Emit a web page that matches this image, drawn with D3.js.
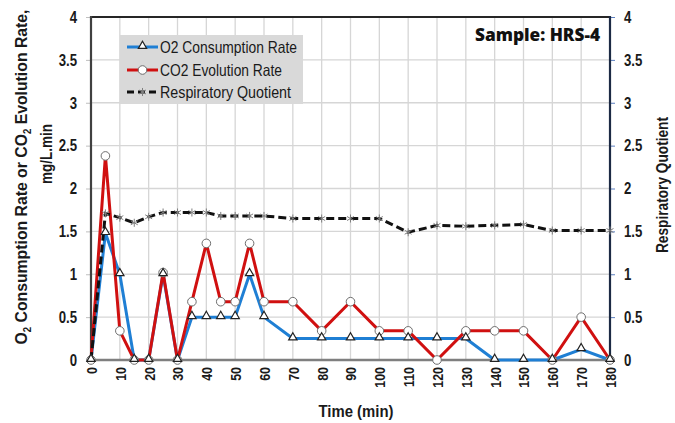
<!DOCTYPE html>
<html>
<head>
<meta charset="utf-8">
<script src="https://cdn.jsdelivr.net/npm/d3@7"></script>
<style>
	body { margin: 0; background: #fff; }
	svg { display: block; }
	text { font-family: 'Liberation Sans', Arial, sans-serif; }
</style>
</head>
<body>
<svg id="chart-svg" width="675" height="423"></svg>
<script>
// time points (min) and series
const times = [0, 5, 10, 15, 20, 25, 30, 35, 40, 45, 50, 55, 60, 70, 80, 90, 100, 110, 120, 130, 140, 150, 160, 170, 180];
const o2Rate = [0, 1.48, 1.0, 0, 0, 1.0, 0, 0.5, 0.5, 0.5, 0.5, 1.0, 0.5, 0.25, 0.25, 0.25, 0.25, 0.25, 0.25, 0.25, 0, 0, 0, 0.125, 0];
const co2Rate = [0, 2.38, 0.34, 0, 0, 1.02, 0, 0.68, 1.36, 0.68, 0.68, 1.36, 0.68, 0.68, 0.34, 0.68, 0.34, 0.34, 0, 0.34, 0.34, 0.34, 0, 0.5, 0];
const rqValues = [0, 1.71, 1.66, 1.6, 1.67, 1.72, 1.72, 1.72, 1.72, 1.68, 1.68, 1.68, 1.68, 1.65, 1.65, 1.65, 1.65, 1.49, 1.57, 1.56, 1.57, 1.58, 1.51, 1.51, 1.51];

const xTicks = d3.range(0, 181, 10);
const yTicks = d3.range(0, 4.01, 0.5);
const legendLabels = ['O2 Consumption Rate', 'CO2 Evolution Rate', 'Respiratory Quotient'];

const BLUE = '#1f7fd4';
const RED = '#d01010';
const TXT = '#1a1a1a';

const margin = { top: 17, right: 65, bottom: 63, left: 91 };
const W = 675, H = 423;

const svg = d3.select('#chart-svg');

// no Arial Narrow here: squeeze Liberation Sans horizontally instead
function squeeze(sel, ratio) {
	sel.each(function () {
		let len = this.getComputedTextLength();
		d3.select(this).attr('textLength', len * ratio).attr('lengthAdjust', 'spacingAndGlyphs');
	});
}

const x = d3.scaleLinear([0, 180], [margin.left, W - margin.right]);
const y = d3.scaleLinear([0, 4], [H - margin.bottom, margin.top]);
const yRight = d3.scaleLinear([0, 4], [H - margin.bottom, margin.top]);

// gridlines
let grid = svg.append('g').attr('class', 'grid');
grid.selectAll('line.h').data(yTicks).enter().append('line')
	.attr('x1', x(0)).attr('x2', x(180))
	.attr('y1', (d) => y(d)).attr('y2', (d) => y(d))
	.attr('stroke', '#d6d6d6').attr('stroke-width', 1.3);
grid.selectAll('line.v').data(xTicks).enter().append('line')
	.attr('y1', y(0)).attr('y2', y(4))
	.attr('x1', (d) => x(d)).attr('x2', (d) => x(d))
	.attr('stroke', '#d6d6d6').attr('stroke-width', 1.3);

// left axis
const leftAxis = d3.axisLeft(y).tickValues(yTicks).tickSize(5).tickPadding(9).tickFormat((d) => d3.format('')(d));
let gL = svg.append('g').attr('transform', `translate(${margin.left},0)`).call(leftAxis);
gL.select('.domain').remove();
gL.selectAll('line').attr('stroke', '#bfbfbf');
gL.selectAll('text').style('font-size', '16.5px').style('font-weight', 'bold').attr('fill', TXT);
squeeze(gL.selectAll('text'), 0.8);

// right axis
const rightAxis = d3.axisRight(yRight).tickValues(yTicks).tickSize(5).tickPadding(9).tickFormat((d) => d3.format('')(d));
let gR = svg.append('g').attr('transform', `translate(${W - margin.right},0)`).call(rightAxis);
gR.select('.domain').remove();
gR.selectAll('line').attr('stroke', '#5b7fc0');
gR.selectAll('text').style('font-size', '16.5px').style('font-weight', 'bold').attr('fill', TXT);
squeeze(gR.selectAll('text'), 0.8);

// bottom axis (rotated labels)
const bottomAxis = d3.axisBottom(x).tickValues(xTicks).tickSize(0).tickPadding(6);
let gB = svg.append('g').attr('transform', `translate(0,${y(0)})`).call(bottomAxis);
gB.select('.domain').remove();
gB.selectAll('text')
	.style('font-size', '15.5px').style('font-weight', 'bold').attr('fill', TXT)
	.attr('text-anchor', 'end')
	.attr('transform', 'rotate(-90)')
	.attr('x', -7).attr('y', 0).attr('dy', '0.35em');
squeeze(gB.selectAll('text'), 0.8);
svg.selectAll('.tick text').attr('font-family', null);

// frame
svg.append('line').attr('x1', x(0)).attr('x2', x(180)).attr('y1', y(4)).attr('y2', y(4)).attr('stroke', '#262626').attr('stroke-width', 2);
svg.append('line').attr('x1', x(0)).attr('x2', x(0)).attr('y1', y(4) - 1).attr('y2', y(0)).attr('stroke', '#404040').attr('stroke-width', 2.2);
svg.append('line').attr('x1', x(180)).attr('x2', x(180)).attr('y1', y(4) - 1).attr('y2', y(0)).attr('stroke', '#1c2a44').attr('stroke-width', 2.2);
svg.append('line').attr('x1', x(0)).attr('x2', x(180) + 1).attr('y1', y(0)).attr('y2', y(0)).attr('stroke', '#7f7f7f').attr('stroke-width', 2.5);

// series
const pts = (vals, sc) => times.map((t, i) => [x(t), sc(vals[i])]);
const line = d3.line();

svg.append('path').attr('d', line(pts(o2Rate, y)))
	.attr('fill', 'none').attr('stroke', BLUE).attr('stroke-width', 3).attr('stroke-linejoin', 'round');
svg.append('path').attr('d', line(pts(co2Rate, y)))
	.attr('fill', 'none').attr('stroke', RED).attr('stroke-width', 3).attr('stroke-linejoin', 'round');
svg.append('path').attr('d', line(pts(rqValues, yRight)))
	.attr('fill', 'none').attr('stroke', '#111').attr('stroke-width', 3).attr('stroke-dasharray', '8,4');

const tri = d3.symbol(d3.symbolTriangle, 30)();
const star = d3.symbol(d3.symbolAsterisk, 45)();

svg.append('g').selectAll('path').data(pts(rqValues, yRight)).enter().append('path')
	.attr('d', star).attr('transform', (p) => `translate(${p[0]},${p[1]})`)
	.attr('fill', 'none').attr('stroke', '#7f7f7f').attr('stroke-width', 1);
svg.append('g').selectAll('circle').data(pts(co2Rate, y)).enter().append('circle')
	.attr('cx', (p) => p[0]).attr('cy', (p) => p[1]).attr('r', 4.3)
	.attr('fill', '#fff').attr('stroke', '#6e6e6e').attr('stroke-width', 1);
svg.append('g').selectAll('path').data(pts(o2Rate, y)).enter().append('path')
	.attr('d', tri).attr('transform', (p) => `translate(${p[0]},${p[1] - 1})`)
	.attr('fill', '#fff').attr('stroke', '#222').attr('stroke-width', 1.2);

// legend
let legendG = svg.append('g').attr('id', 'legend');
legendG.append('rect').attr('x', 120).attr('y', 35).attr('width', 183).attr('height', 69).attr('fill', '#d9d9d9');
const rowY = [47, 70, 92];
const legendStroke = [BLUE, RED, '#111'];
const legendWidth = [137, 122, 131];
legendLabels.forEach((lab, i) => {
	let l = legendG.append('line').attr('x1', 127).attr('x2', 158).attr('y1', rowY[i]).attr('y2', rowY[i])
		.attr('stroke', legendStroke[i]).attr('stroke-width', 3);
	if (i == 2) l.attr('stroke-dasharray', '7,4');
	if (i == 0) legendG.append('path').attr('d', tri).attr('transform', `translate(142.5,${rowY[i] - 1})`)
		.attr('fill', '#fff').attr('stroke', '#222').attr('stroke-width', 1.2);
	if (i == 1) legendG.append('circle').attr('cx', 142.5).attr('cy', rowY[i]).attr('r', 4.3)
		.attr('fill', '#fff').attr('stroke', '#6e6e6e');
	if (i == 2) legendG.append('path').attr('d', star).attr('transform', `translate(142.5,${rowY[i]})`)
		.attr('fill', 'none').attr('stroke', '#7f7f7f');
	legendG.append('text').attr('x', 160).attr('y', rowY[i]).attr('dy', '0.36em')
		.attr('textLength', legendWidth[i]).attr('lengthAdjust', 'spacingAndGlyphs')
		.style('font-size', '16.5px').style('font-weight', 500).attr('fill', TXT).text(lab);
});

// sample label
svg.append('text').attr('x', 600).attr('y', 41).attr('text-anchor', 'end')
	.attr('textLength', 125).attr('lengthAdjust', 'spacingAndGlyphs')
	.style('font-family', '"Open Sans", Lato, sans-serif').style('font-size', '17px').style('font-weight', 800)
	.attr('fill', '#111').text('Sample: HRS-4');

// axis titles
svg.append('text').attr('x', 356).attr('y', 417).attr('text-anchor', 'middle')
	.attr('textLength', 75).attr('lengthAdjust', 'spacingAndGlyphs')
	.style('font-size', '16.5px').style('font-weight', 'bold').attr('fill', TXT).text('Time (min)');

let yt = svg.append('text').attr('transform', 'translate(27,177) rotate(-90)').attr('text-anchor', 'middle')
	.attr('textLength', 335).attr('lengthAdjust', 'spacingAndGlyphs')
	.style('font-size', '16.5px').style('font-weight', 'bold').attr('fill', TXT);
yt.append('tspan').text('O');
yt.append('tspan').attr('dy', 4).style('font-size', '10px').text('2');
yt.append('tspan').attr('dy', -4).text(' Consumption Rate or CO');
yt.append('tspan').attr('dy', 4).style('font-size', '10px').text('2');
yt.append('tspan').attr('dy', -4).text(' Evolution Rate,');
svg.append('text').attr('transform', 'translate(52,154) rotate(-90)').attr('text-anchor', 'middle')
	.attr('textLength', 60).attr('lengthAdjust', 'spacingAndGlyphs')
	.style('font-size', '16.5px').style('font-weight', 'bold').attr('fill', TXT).text('mg/L.min');

svg.append('text').attr('transform', 'translate(668,185) rotate(-90)').attr('text-anchor', 'middle')
	.attr('textLength', 136).attr('lengthAdjust', 'spacingAndGlyphs')
	.style('font-size', '16.5px').style('font-weight', 'bold').attr('fill', TXT).text('Respiratory Quotient');
</script>
</body>
</html>
